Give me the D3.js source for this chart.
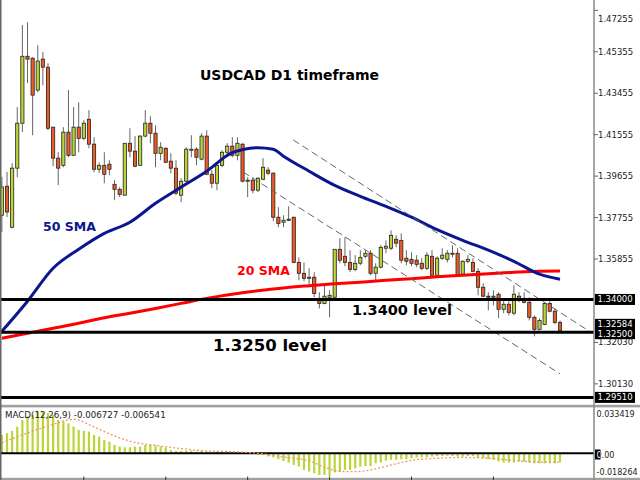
<!DOCTYPE html>
<html><head><meta charset="utf-8">
<script src="https://cdn.jsdelivr.net/npm/d3@7"></script>
<style>body{margin:0;background:#fff}svg{display:block}</style>
</head><body><svg id="c" width="640" height="480"></svg>
<script>
// ---------------- DATA ----------------
const title = "USDCAD D1 timeframe";
const opens = [1.3786,1.3919,1.3731,1.4002,1.4208,1.4515,1.4506,1.4360,1.4502,1.4465,
1.4190,1.4048,1.4015,1.4167,1.4061,1.4190,1.4139,1.4226,1.4112,1.3997,
1.4015,1.4020,1.3928,1.3905,1.3878,1.4116,1.4080,1.4015,1.4149,1.4208,
1.4162,1.4070,1.4093,1.4034,1.4002,1.3878,1.3942,1.4084,1.4089,1.4043,
1.4149,1.3974,1.3933,1.4015,1.4075,1.4103,1.4061,1.4112,1.3942,1.3947,
1.3901,1.3951,1.3993,1.3979,1.3777,1.3754,1.3768,1.3777,1.3570,1.3520,
1.3497,1.3502,1.3396,1.3382,1.3410,1.3410,1.3630,1.3598,1.3570,1.3538,
1.3566,1.3598,1.3612,1.3520,1.3548,1.3635,1.3635,1.3676,1.3671,1.3589,
1.3584,1.3580,1.3566,1.3543,1.3598,1.3511,1.3589,1.3584,1.3607,1.3612,
1.3516,1.3575,1.3570,1.3529,1.3456,1.3415,1.3410,1.3424,1.3355,1.3378,
1.3337,1.3415,1.3405,1.3387,1.3318,1.3263,1.3286,1.3382,1.3346,1.3295];
const highs = [1.3962,1.3985,1.4025,1.4282,1.4658,1.4671,1.4511,1.4566,1.4534,1.4483,
1.4190,1.4075,1.4190,1.4360,1.4282,1.4304,1.4222,1.4268,1.4144,1.4029,
1.4075,1.4038,1.3947,1.3915,1.4116,1.4185,1.4149,1.4153,1.4268,1.4240,
1.4199,1.4121,1.4098,1.4070,1.4038,1.3956,1.4098,1.4153,1.4098,1.4162,
1.4176,1.3993,1.4029,1.4084,1.4116,1.4144,1.4144,1.4116,1.3960,1.3960,
1.3960,1.4048,1.4006,1.3983,1.3823,1.3786,1.3827,1.3779,1.3593,1.3570,
1.3543,1.3525,1.3433,1.3465,1.3442,1.3630,1.3681,1.3685,1.3626,1.3603,
1.3626,1.3626,1.3626,1.3566,1.3649,1.3671,1.3717,1.3694,1.3703,1.3626,
1.3616,1.3603,1.3589,1.3616,1.3626,1.3598,1.3635,1.3626,1.3649,1.3635,
1.3580,1.3603,1.3589,1.3543,1.3474,1.3433,1.3442,1.3433,1.3396,1.3396,
1.3465,1.3433,1.3433,1.3410,1.3327,1.3314,1.3387,1.3392,1.3359,1.3304];
const lows = [1.3709,1.3778,1.3726,1.3960,1.4167,1.4392,1.4153,1.4350,1.4382,1.4176,
1.4011,1.3924,1.4006,1.4052,1.4061,1.4075,1.4130,1.4093,1.3983,1.3979,
1.3933,1.3970,1.3855,1.3869,1.3878,1.4052,1.4006,1.4015,1.4144,1.4116,
1.4006,1.4038,1.4025,1.3979,1.3878,1.3846,1.3937,1.4052,1.4015,1.4038,
1.3970,1.3910,1.3901,1.4006,1.4061,1.4052,1.4038,1.3937,1.3869,1.3887,
1.3892,1.3947,1.3970,1.3759,1.3731,1.3731,1.3759,1.3566,1.3488,1.3483,
1.3456,1.3410,1.3359,1.3378,1.3318,1.3408,1.3566,1.3552,1.3525,1.3529,
1.3557,1.3589,1.3511,1.3488,1.3543,1.3612,1.3626,1.3639,1.3566,1.3557,
1.3552,1.3548,1.3534,1.3534,1.3506,1.3506,1.3580,1.3570,1.3593,1.3506,
1.3511,1.3566,1.3525,1.3419,1.3410,1.3350,1.3373,1.3314,1.3337,1.3327,
1.3327,1.3387,1.3382,1.3304,1.3231,1.3259,1.3282,1.3341,1.3286,1.3252];
const closes = [1.3916,1.3801,1.4002,1.4208,1.4515,1.4502,1.4337,1.4493,1.4465,1.4185,
1.4048,1.4002,1.4167,1.4061,1.4190,1.4139,1.4208,1.4112,1.3997,1.4015,
1.3974,1.3997,1.3905,1.3882,1.4116,1.4080,1.4011,1.4149,1.4208,1.4162,
1.4070,1.4098,1.4029,1.4002,1.3887,1.3942,1.4089,1.4089,1.4052,1.4149,
1.3974,1.3933,1.4015,1.4075,1.4103,1.4061,1.4116,1.3942,1.3947,1.3901,
1.3956,1.4006,1.3979,1.3777,1.3749,1.3763,1.3763,1.3570,1.3520,1.3497,
1.3502,1.3428,1.3382,1.3415,1.3419,1.3630,1.3580,1.3570,1.3538,1.3566,
1.3593,1.3612,1.3520,1.3548,1.3639,1.3644,1.3694,1.3658,1.3580,1.3575,
1.3566,1.3561,1.3543,1.3603,1.3511,1.3589,1.3603,1.3612,1.3612,1.3511,
1.3575,1.3584,1.3529,1.3456,1.3415,1.3410,1.3415,1.3355,1.3378,1.3341,
1.3424,1.3405,1.3387,1.3318,1.3263,1.3304,1.3382,1.3346,1.3295,1.3258];

// moving averages (bar index, price)
const sma50Idx = [0,5,10,15,20,25,30,35,40,45,50,53,55,60,65,70,75,80,85,90,95,100,105,109];
const sma50Val = [1.3254,1.3392,1.3543,1.3630,1.3703,1.3754,1.3841,1.3915,1.3988,1.4073,1.4096,1.4089,1.4057,1.3988,1.3923,1.3873,1.3827,1.3777,1.3720,1.3671,1.3626,1.3575,1.3516,1.3493];
const sma20Idx = [0,5,10,15,20,25,30,35,40,45,50,55,60,65,70,75,80,85,90,95,100,105,109];
const sma20Val = [1.3222,1.3245,1.3268,1.3291,1.3316,1.3337,1.3359,1.3382,1.3405,1.3424,1.3440,1.3453,1.3463,1.3472,1.3479,1.3488,1.3495,1.3504,1.3511,1.3518,1.3525,1.3529,1.3531];

// MACD histogram (one per bar) and signal line
const macdHist = [0.0135,0.0148,0.0165,0.0197,0.0246,0.0271,0.0283,0.0308,0.0308,0.0295,
0.0283,0.0246,0.0234,0.0221,0.0197,0.0172,0.0165,0.0160,0.0135,0.0123,
0.0098,0.0086,0.0061,0.0049,0.0044,0.0044,0.0049,0.0049,0.0061,0.0061,
0.0057,0.0049,0.0042,0.0024,0.0017,0.0017,0.0020,0.0020,0.0013,0.0017,
0.0013,0.0007,0.0013,0.0013,0.0013,0.0007,0.0005,0.0005,0.0005,-0.0007,
-0.0013,-0.0013,-0.0024,-0.0030,-0.0044,-0.0057,-0.0069,-0.0086,-0.0098,-0.0123,
-0.0135,-0.0148,-0.0160,-0.0160,-0.0168,-0.0142,-0.0135,-0.0123,-0.0123,-0.0111,
-0.0098,-0.0094,-0.0094,-0.0074,-0.0069,-0.0054,-0.0049,-0.0049,-0.0044,-0.0044,
-0.0037,-0.0032,-0.0030,-0.0030,-0.0024,-0.0020,-0.0020,-0.0017,-0.0020,-0.0024,
-0.0024,-0.0020,-0.0020,-0.0030,-0.0037,-0.0044,-0.0049,-0.0061,-0.0069,-0.0069,
-0.0069,-0.0061,-0.0061,-0.0069,-0.0074,-0.0074,-0.0074,-0.0074,-0.0074,-0.0067];
const signalIdx = [0,5,10,14,18,22,26,30,35,40,45,50,55,60,63,66,69,72,75,78,81,85,90,95,100,105,109];
const signalVal = [0.0076,0.0150,0.0213,0.0251,0.0194,0.0128,0.0080,0.0059,0.0035,0.0017,0.0012,-0.0001,-0.0027,-0.0057,-0.0101,-0.0134,-0.0136,-0.0123,-0.0097,-0.0068,-0.0048,-0.0037,-0.0031,-0.0037,-0.0053,-0.0066,-0.006541];

const priceTicks = [1.47255,1.45355,1.43455,1.41555,1.39655,1.37755,1.35855,1.32030,1.30130];
const levelValues = [1.34000,1.32500,1.29510];
const levelLabels = ["1.34000","1.32500","1.29510"];
const currentPrice = 1.32584;
const macdTicks = [0.033419,0.00,-0.018264];
const macdTickLabels = ["0.033419","0.00","-0.018264"];
const macdText = "MACD(12,26,9) -0.006727 -0.006541";
const levelTexts = ["1.3400 level","1.3250 level"];
const smaTexts = ["50 SMA","20 SMA"];
// dashed channel lines: [barIndex, price] pairs
const trendLines = [[[56.9,1.41313],[114.9,1.32514]],[[47.1,1.39846],[109,1.30593]]];
const timeTickIdx = [16,32,48,64,80,96];

// ---------------- DRAW ----------------
const svg = d3.select("#c");
const W = 640, H = 480, axisX = 594;
const x = d3.scaleLinear().domain([0,109]).range([1.9,560]);
const y = d3.scaleLinear().domain([1.45355,1.35855]).range([51.8,259]);
const ym = d3.scaleLinear().domain([-0.018264,0.033419]).range([478,408]);
const F = "DejaVu Sans, Verdana, sans-serif";
const AF = 8.5;

svg.append("rect").attr("width",W).attr("height",H).attr("fill","#fff");
const defs = svg.append("defs");
defs.append("clipPath").attr("id","mainclip").append("rect").attr("x",0).attr("y",0).attr("width",axisX).attr("height",405);
defs.append("clipPath").attr("id","macdclip").append("rect").attr("x",0).attr("y",408).attr("width",axisX).attr("height",70);

const main = svg.append("g").attr("clip-path","url(#mainclip)");

// candles
const idx = d3.range(opens.length);
const cg = main.append("g");
cg.selectAll("line.w").data(idx).join("line")
  .attr("x1",i=>x(i)).attr("x2",i=>x(i))
  .attr("y1",i=>y(highs[i])).attr("y2",i=>y(lows[i]))
  .attr("stroke","#666").attr("stroke-width",1);
cg.selectAll("rect.b").data(idx).join("rect")
  .attr("x",i=>x(i)-1.6).attr("width",3.2)
  .attr("y",i=>y(Math.max(opens[i],closes[i])))
  .attr("height",i=>Math.max(1,Math.abs(y(opens[i])-y(closes[i]))))
  .attr("fill",i=>closes[i]>=opens[i]?"#bcd435":"#f05a24")
  .attr("stroke","#222").attr("stroke-width",0.8);

// SMA lines
const lineGen = d3.line().x(d=>x(d[0])).y(d=>y(d[1])).curve(d3.curveMonotoneX);
main.append("path").attr("d",lineGen(sma20Idx.map((v,k)=>[v,sma20Val[k]])))
  .attr("fill","none").attr("stroke","#ff0000").attr("stroke-width",3);
main.append("path").attr("d",lineGen(sma50Idx.map((v,k)=>[v,sma50Val[k]])))
  .attr("fill","none").attr("stroke","#0c1690").attr("stroke-width",3);

// trend lines
trendLines.forEach(t=>{
  main.append("line").attr("x1",x(t[0][0])).attr("y1",y(t[0][1]))
    .attr("x2",x(t[1][0])).attr("y2",y(t[1][1]))
    .attr("stroke","#666").attr("stroke-width",1).attr("stroke-dasharray","7,4");
});

// horizontal levels
levelValues.forEach(v=>{
  svg.append("line").attr("x1",0).attr("x2",axisX).attr("y1",y(v)).attr("y2",y(v))
    .attr("stroke","#000").attr("stroke-width",3);
});

// texts in chart
svg.append("text").attr("x",200).attr("y",80).text(title)
  .attr("font-family",F).attr("font-weight","bold").attr("font-size",14).attr("fill","#000");
svg.append("text").attr("x",43).attr("y",230.5).text(smaTexts[0])
  .attr("font-family",F).attr("font-weight","bold").attr("font-size",12.5).attr("fill","#0c1690");
svg.append("text").attr("x",237).attr("y",275).text(smaTexts[1])
  .attr("font-family",F).attr("font-weight","bold").attr("font-size",12.5).attr("fill","#ff0000");
svg.append("text").attr("x",352).attr("y",315).text(levelTexts[0])
  .attr("font-family",F).attr("font-weight","bold").attr("font-size",14.5).attr("fill","#000");
svg.append("text").attr("x",213).attr("y",351).text(levelTexts[1])
  .attr("font-family",F).attr("font-weight","bold").attr("font-size",16.5).attr("fill","#000");

// MACD panel
const mg = svg.append("g").attr("clip-path","url(#macdclip)");
mg.selectAll("rect.h").data(idx).join("rect")
  .attr("x",i=>x(i)-1.1).attr("width",2.2)
  .attr("y",i=>Math.min(ym(0),ym(macdHist[i])))
  .attr("height",i=>Math.abs(ym(macdHist[i])-ym(0)))
  .attr("fill","#bcd43a");
mg.append("line").attr("x1",0).attr("x2",axisX).attr("y1",ym(0)).attr("y2",ym(0))
  .attr("stroke","#000").attr("stroke-width",1.8);
const sigGen = d3.line().x(d=>x(d[0])).y(d=>ym(d[1])).curve(d3.curveMonotoneX);
mg.append("path").attr("d",sigGen(signalIdx.map((v,k)=>[v,signalVal[k]])))
  .attr("fill","none").attr("stroke","#f4956a").attr("stroke-width",1.3).attr("stroke-dasharray","2,2");
svg.append("text").attr("x",5).attr("y",418).text(macdText)
  .attr("font-family",F).attr("font-size",8.7).attr("fill","#222");

// frames
svg.append("rect").attr("x",0).attr("y",404.8).attr("width",W).attr("height",2.6).attr("fill","#a0a0a0");
svg.append("rect").attr("x",0).attr("y",477.8).attr("width",W).attr("height",2.2).attr("fill","#a0a0a0");
svg.append("line").attr("x1",0.75).attr("x2",0.75).attr("y1",0).attr("y2",H).attr("stroke","#666").attr("stroke-width",1.5);
svg.append("line").attr("x1",axisX).attr("x2",axisX).attr("y1",0).attr("y2",H).attr("stroke","#888").attr("stroke-width",1.5);
timeTickIdx.forEach(i=>{
  svg.append("line").attr("x1",x(i)).attr("x2",x(i)).attr("y1",476.5).attr("y2",480).attr("stroke","#333").attr("stroke-width",1);
});

// right price axis
priceTicks.forEach(t=>{
  const ty = y(t);
  svg.append("line").attr("x1",axisX).attr("x2",axisX+4).attr("y1",ty).attr("y2",ty).attr("stroke","#666");
  svg.append("text").attr("x",598).attr("y",Math.max(ty,19)+3).text(d3.format(".5f")(t))
    .attr("font-family",F).attr("font-size",AF).attr("fill","#222");
});
function box(v,label,dy){
  const cy = y(v)+dy;
  svg.append("rect").attr("x",595).attr("y",cy-5.5).attr("width",40).attr("height",11).attr("fill","#000");
  svg.append("text").attr("x",597.5).attr("y",cy+3).text(label)
    .attr("font-family",F).attr("font-size",AF).attr("fill","#fff");
}
box(currentPrice,d3.format(".5f")(currentPrice),-6);
levelValues.forEach((v,k)=>box(v,levelLabels[k],k===1?1.5:0));

// MACD axis
const mPos = [413.5,454.5,471.5];
macdTicks.forEach((t,k)=>{
  svg.append("text").attr("x",596.5).attr("y",mPos[k]+3).text(macdTickLabels[k])
    .attr("font-family",F).attr("font-size",8).attr("fill","#222");
});
defs.append("clipPath").attr("id","zbox").append("rect").attr("x",595).attr("y",449.5).attr("width",5.5).attr("height",10);
svg.append("rect").attr("x",595).attr("y",449.5).attr("width",5.5).attr("height",10).attr("fill","#000");
svg.append("text").attr("x",596.5).attr("y",mPos[1]+3).text(macdTickLabels[1])
  .attr("font-family",F).attr("font-size",8).attr("fill","#fff").attr("clip-path","url(#zbox)");
</script></body></html>
